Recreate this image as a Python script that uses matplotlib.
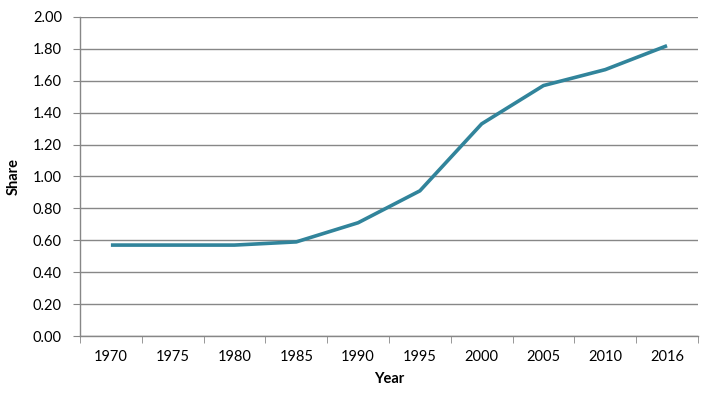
import numpy as np
import matplotlib
matplotlib.use("Agg")
import matplotlib.pyplot as plt

plt.rcParams['font.family'] = ['Lato', 'DejaVu Sans']

years = ['1970', '1975', '1980', '1985', '1990', '1995', '2000', '2005', '2010', '2016']
share = [0.57, 0.57, 0.57, 0.59, 0.71, 0.91, 1.33, 1.57, 1.67, 1.82]

grey = '#878787'
fig = plt.figure(figsize=(7.10, 3.94), dpi=100)
ax = fig.add_axes([0.1127, 0.1472, 0.8703, 0.8097])

x = np.arange(len(years))
ax.plot(x, share, color='#31849B', linewidth=2.6, solid_capstyle='butt')

ax.set_xlim(-0.5, len(years) - 0.5)
ax.set_ylim(0, 2.0)
ax.set_yticks(np.arange(0, 2.01, 0.2))
ax.set_yticklabels([f'{v:.2f}' for v in np.arange(0, 2.01, 0.2)])
ax.set_xticks(x)
ax.set_xticklabels(years)
ax.set_xticks(np.arange(-0.5, len(years)), minor=True)

ax.grid(axis='y', color=grey, linewidth=1)
ax.set_axisbelow(True)
for s in ['top', 'right']:
    ax.spines[s].set_visible(False)
for s in ['left', 'bottom']:
    ax.spines[s].set_color(grey)
    ax.spines[s].set_linewidth(1)

ax.tick_params(axis='y', length=5, color=grey, labelsize=10.5, pad=8)
ax.tick_params(axis='x', which='major', length=0, labelsize=10.5, pad=10)
ax.tick_params(axis='x', which='minor', length=5, color=grey)

ax.set_xlabel('Year', fontweight='bold', fontsize=10.5, labelpad=6)
ax.set_ylabel('Share', fontweight='bold', fontsize=10.5, labelpad=9)

fig.savefig('out.png', dpi=100)
